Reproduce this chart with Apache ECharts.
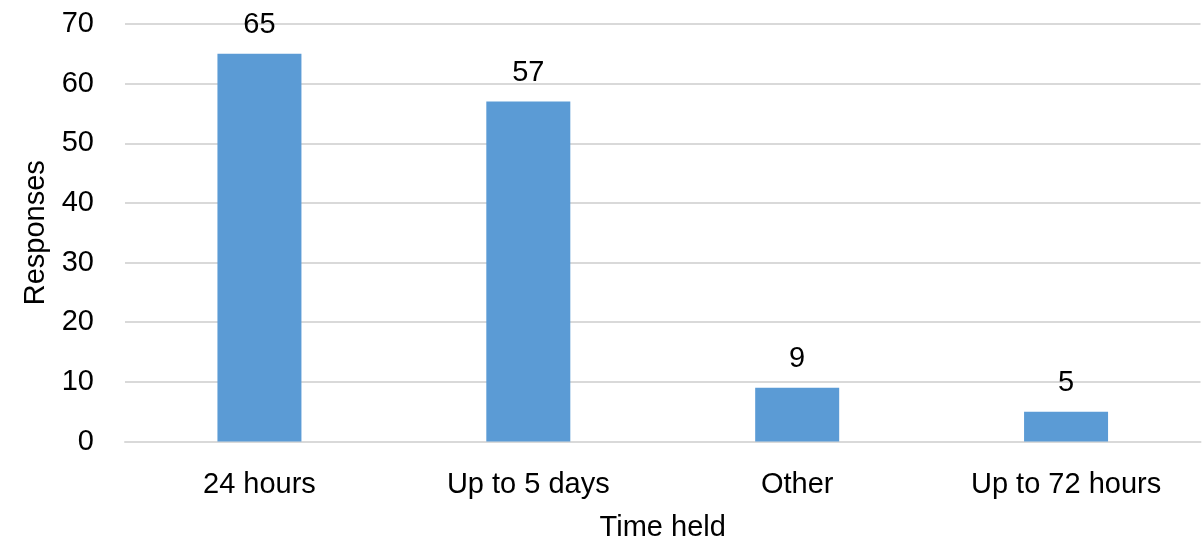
<!DOCTYPE html>
<html>
<head>
<meta charset="utf-8">
<script src="https://cdn.jsdelivr.net/npm/echarts@6/dist/echarts.min.js"></script>
<style>
  html, body { margin: 0; padding: 0; background: #fff; }
  #chart { width: 1204px; height: 544px; }
</style>
</head>
<body>
<div id="chart"></div>
<script>
// Survey responses by how long items are held
const categories = ['24 hours', 'Up to 5 days', 'Other', 'Up to 72 hours'];
const responses = [65, 57, 9, 5];
const yTicks = { min: 0, max: 70, interval: 10 };

const FONT = '"Liberation Sans", Arial, sans-serif';
const FS = 29;
const TEXT = '#000000';

const chart = echarts.init(document.getElementById('chart'), null, { renderer: 'canvas' });

chart.setOption({
  animation: false,
  backgroundColor: '#ffffff',
  textStyle: { fontFamily: FONT },
  grid: { left: 125, right: 3.5, top: 24, bottom: 102.5, containLabel: false, outerBoundsMode: 'none' },
  xAxis: {
    type: 'category',
    data: categories,
    name: 'Time held',
    nameLocation: 'middle',
    nameGap: 72,
    nameTextStyle: { fontFamily: FONT, fontSize: FS, color: TEXT },
    axisLine: { show: true, lineStyle: { color: '#D9D9D9', width: 2 } },
    axisTick: { show: false },
    axisLabel: { interval: 0, fontFamily: FONT, fontSize: FS, color: TEXT, margin: 29 }
  },
  yAxis: {
    type: 'value',
    min: yTicks.min,
    max: yTicks.max,
    interval: yTicks.interval,
    name: 'Responses',
    nameLocation: 'middle',
    nameGap: 74,
    nameRotate: 90,
    nameTextStyle: { fontFamily: FONT, fontSize: FS, color: TEXT },
    axisLine: { show: false },
    axisTick: { show: false },
    axisLabel: { fontFamily: FONT, fontSize: FS, color: TEXT, margin: 31 },
    splitLine: { show: true, lineStyle: { color: '#D9D9D9', width: 2 } }
  },
  series: [{
    type: 'bar',
    data: responses,
    barWidth: 84,
    itemStyle: { color: '#5B9BD5' },
    label: {
      show: true,
      position: 'top',
      distance: 14,
      fontFamily: FONT,
      fontSize: FS,
      color: TEXT
    }
  }]
});
</script>
</body>
</html>
